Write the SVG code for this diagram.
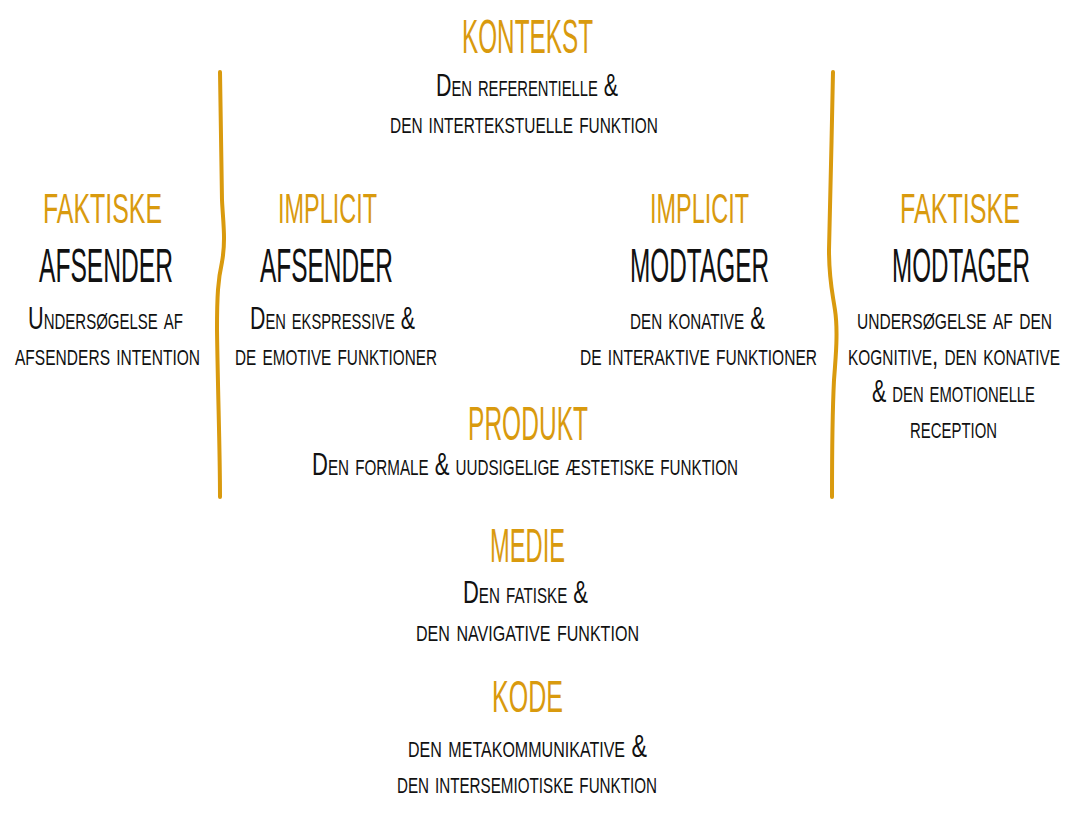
<svg xmlns="http://www.w3.org/2000/svg" width="1068" height="834" viewBox="0 0 1068 834">
<style>
text{font-family:"Liberation Sans",Arial,sans-serif;text-anchor:middle;}
.gold{fill:#D99A0E;font-size:24px;}
.head{fill:#111;font-size:24px;}
.sub{fill:#111;font-size:20px;font-variant:small-caps;}
.bar{fill:none;stroke:#D99A0E;stroke-width:4;stroke-linecap:round;stroke-linejoin:round;}
</style>
<rect width="1068" height="834" fill="#fff"/>
<g id="connectors">
<path class="bar" d="M220,72 C221,120 221,160 222,200 C223,222 226,240 222,262 C218,280 217,295 217,330 C218,400 220,450 220,497"/>
<path class="bar" d="M833,72 C832,130 830,200 829,250 C829,280 832,290 835,310 C838,330 836,355 834,380 C832,420 832,460 832,497"/>
</g>
<g id="kontekst">
<text class="gold" transform="translate(527.5,53) scale(1,1.98)" textLength="131" lengthAdjust="spacingAndGlyphs">KONTEKST</text>
<text class="sub" transform="translate(527,96) scale(1,1.55)" textLength="182" lengthAdjust="spacingAndGlyphs">Den referentielle &amp;</text>
<text class="sub" transform="translate(524,133) scale(1,1.6)" textLength="268" lengthAdjust="spacingAndGlyphs">den intertekstuelle funktion</text>
</g>
<g id="faktiske-afsender">
<text class="gold" transform="translate(102.5,223) scale(1,1.75)" textLength="119" lengthAdjust="spacingAndGlyphs">FAKTISKE</text>
<text class="head" transform="translate(106,282) scale(1,2.04)" textLength="134" lengthAdjust="spacingAndGlyphs">AFSENDER</text>
<text class="sub" transform="translate(105.5,329) scale(1,1.55)" textLength="155" lengthAdjust="spacingAndGlyphs">Undersøgelse af</text>
<text class="sub" transform="translate(107.5,365) scale(1,1.55)" textLength="185" lengthAdjust="spacingAndGlyphs">afsenders intention</text>
</g>
<g id="implicit-afsender">
<text class="gold" transform="translate(327.5,223) scale(1,1.75)" textLength="99" lengthAdjust="spacingAndGlyphs">IMPLICIT</text>
<text class="head" transform="translate(326.5,282) scale(1,2.04)" textLength="133" lengthAdjust="spacingAndGlyphs">AFSENDER</text>
<text class="sub" transform="translate(332.5,329) scale(1,1.55)" textLength="165" lengthAdjust="spacingAndGlyphs">Den ekspressive &amp;</text>
<text class="sub" transform="translate(336,365) scale(1,1.55)" textLength="202" lengthAdjust="spacingAndGlyphs">de emotive funktioner</text>
</g>
<g id="implicit-modtager">
<text class="gold" transform="translate(699.5,223) scale(1,1.75)" textLength="99" lengthAdjust="spacingAndGlyphs">IMPLICIT</text>
<text class="head" transform="translate(699.5,282) scale(1,2.04)" textLength="139" lengthAdjust="spacingAndGlyphs">MODTAGER</text>
<text class="sub" transform="translate(697.5,329) scale(1,1.55)" textLength="135" lengthAdjust="spacingAndGlyphs">den konative &amp;</text>
<text class="sub" transform="translate(698.5,365) scale(1,1.55)" textLength="237" lengthAdjust="spacingAndGlyphs">de interaktive funktioner</text>
</g>
<g id="faktiske-modtager">
<text class="gold" transform="translate(960,223) scale(1,1.75)" textLength="120" lengthAdjust="spacingAndGlyphs">FAKTISKE</text>
<text class="head" transform="translate(961,282) scale(1,2.04)" textLength="138" lengthAdjust="spacingAndGlyphs">MODTAGER</text>
<text class="sub" transform="translate(954.5,329) scale(1,1.55)" textLength="195" lengthAdjust="spacingAndGlyphs">undersøgelse af den</text>
<text class="sub" transform="translate(954,365) scale(1,1.55)" textLength="212" lengthAdjust="spacingAndGlyphs">kognitive, den konative</text>
<text class="sub" transform="translate(953.5,402) scale(1,1.55)" textLength="163" lengthAdjust="spacingAndGlyphs">&amp; den emotionelle</text>
<text class="sub" transform="translate(953.5,438) scale(1,1.55)" textLength="87" lengthAdjust="spacingAndGlyphs">reception</text>
</g>
<g id="produkt">
<text class="gold" transform="translate(528,440) scale(1,2.0)" textLength="120" lengthAdjust="spacingAndGlyphs">PRODUKT</text>
<text class="sub" transform="translate(525,475) scale(1,1.55)" textLength="426" lengthAdjust="spacingAndGlyphs">Den formale &amp; uudsigelige æstetiske funktion</text>
</g>
<g id="medie">
<text class="gold" transform="translate(527.5,562) scale(1,2.0)" textLength="75" lengthAdjust="spacingAndGlyphs">MEDIE</text>
<text class="sub" transform="translate(525.5,603) scale(1,1.55)" textLength="125" lengthAdjust="spacingAndGlyphs">Den fatiske &amp;</text>
<text class="sub" transform="translate(527.5,641) scale(1,1.55)" textLength="223" lengthAdjust="spacingAndGlyphs">den navigative funktion</text>
</g>
<g id="kode">
<text class="gold" transform="translate(527.5,712) scale(1,1.86)" textLength="71" lengthAdjust="spacingAndGlyphs">KODE</text>
<text class="sub" transform="translate(527.5,757) scale(1,1.55)" textLength="239" lengthAdjust="spacingAndGlyphs">den metakommunikative &amp;</text>
<text class="sub" transform="translate(527,793) scale(1,1.6)" textLength="260" lengthAdjust="spacingAndGlyphs">den intersemiotiske funktion</text>
</g>
</svg>
